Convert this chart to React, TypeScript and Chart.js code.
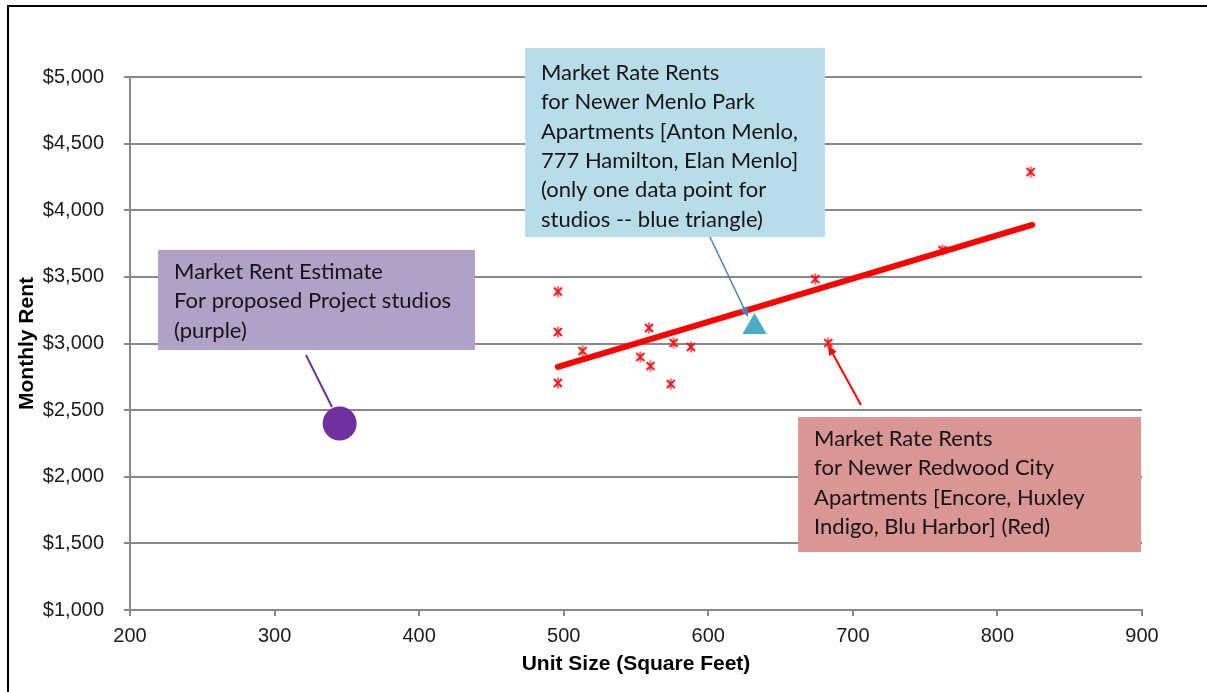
import React, { useEffect, useRef } from "react";
import { Chart, registerables } from "chart.js";

Chart.register(...registerables);

// Red Redwood City units (sq ft, monthly rent)
const redX = [496, 496, 496, 513, 553, 559, 560, 574, 576, 588, 674, 677, 683, 762, 823];
const redY = [3390, 3086, 2704, 2944, 2899, 3116, 2831, 2696, 3004, 2974, 3484, 3900, 3004, 3702, 4287];
// Trend line endpoints
const trendX = [496, 824];
const trendY = [2825, 3890];
// Menlo Park (blue triangle)
const blueX = [632];
const blueY = [3124];
// Project estimate (purple)
const purpleX = [345];
const purpleY = [2400];

const xTicks = [200, 300, 400, 500, 600, 700, 800, 900];
const yTicks = [1000, 1500, 2000, 2500, 3000, 3500, 4000, 4500, 5000];

const blueText = [
  "Market Rate Rents",
  "for Newer Menlo Park",
  "Apartments [Anton Menlo,",
  "777 Hamilton, Elan Menlo]",
  "(only one data point for",
  "studios -- blue triangle)",
];
const purpleText = ["Market Rent Estimate", "For proposed Project studios", "(purple)"];
const redText = [
  "Market Rate Rents",
  "for Newer Redwood City",
  "Apartments [Encore, Huxley",
  "Indigo, Blu Harbor] (Red)",
];

function makeStar(): HTMLCanvasElement {
  const c = document.createElement("canvas");
  c.width = 12;
  c.height = 12;
  const g = c.getContext("2d")!;
  g.strokeStyle = "#f01418";
  g.lineWidth = 2;
  g.lineCap = "butt";
  g.beginPath();
  g.moveTo(2, 2);
  g.lineTo(10, 10);
  g.moveTo(10, 2);
  g.lineTo(2, 10);
  g.stroke();
  g.lineWidth = 1.3;
  g.beginPath();
  g.moveTo(6, 0.5);
  g.lineTo(6, 11.5);
  g.stroke();
  return c;
}

const annotationPlugin = {
  id: "notes",
  afterDatasetsDraw(chart: any) {
    const ctx = chart.ctx as CanvasRenderingContext2D;
    const xs = chart.scales.x;
    const ys = chart.scales.y;
    const X = (v: number) => xs.getPixelForValue(v);
    const Y = (v: number) => ys.getPixelForValue(v);
    const font = "22px Lato";

    const box = (x0: number, y0: number, x1: number, y1: number, fill: string, lines: string[], firstBase: number) => {
      const l = X(x0), t = Y(y0), r = X(x1), b = Y(y1);
      ctx.save();
      ctx.fillStyle = fill;
      ctx.fillRect(l, t, r - l, b - t);
      ctx.fillStyle = "#141414";
      ctx.font = font;
      ctx.textBaseline = "alphabetic";
      ctx.textAlign = "left";
      lines.forEach((s, i) => ctx.fillText(s, l + 16, t + firstBase + i * 29.3));
      ctx.restore();
    };

    const arrow = (ax: number, ay: number, bx: number, by: number, color: string, head: boolean, w: number) => {
      const x0 = X(ax), y0 = Y(ay), x1 = X(bx), y1 = Y(by);
      ctx.save();
      ctx.strokeStyle = color;
      ctx.fillStyle = color;
      ctx.lineWidth = w;
      const ang = Math.atan2(y1 - y0, x1 - x0);
      const hl = head ? 11 : 0;
      ctx.beginPath();
      ctx.moveTo(x0, y0);
      ctx.lineTo(x1 - Math.cos(ang) * hl * 0.8, y1 - Math.sin(ang) * hl * 0.8);
      ctx.stroke();
      if (head) {
        ctx.beginPath();
        ctx.moveTo(x1, y1);
        ctx.lineTo(x1 - Math.cos(ang - 0.4) * hl, y1 - Math.sin(ang - 0.4) * hl);
        ctx.lineTo(x1 - Math.cos(ang + 0.4) * hl, y1 - Math.sin(ang + 0.4) * hl);
        ctx.closePath();
        ctx.fill();
      }
      ctx.restore();
    };

    box(473.2, 5217, 680.7, 3799, "#b7dde8", blueText, 32);
    box(219.4, 3702, 438.6, 2951, "#b2a1c7", purpleText, 29);
    box(662.1, 2448, 899.3, 1435, "#d99694", redText, 29);

    arrow(601.2, 3799, 627.5, 3199, "#4a7ebb", true, 1.5);
    arrow(321.7, 2914, 339.7, 2523, "#7030a0", false, 2);
    arrow(705.6, 2538, 682.8, 2989, "#ff0000", true, 2);

    // outer border
    ctx.save();
    ctx.strokeStyle = "#000";
    ctx.lineWidth = 2;
    ctx.beginPath();
    ctx.moveTo(8, chart.height + 5);
    ctx.lineTo(8, 6);
    ctx.lineTo(chart.width + 5, 6);
    ctx.stroke();
    ctx.restore();
  },
};

export default function App() {
  const ref = useRef<HTMLCanvasElement>(null);
  useEffect(() => {
    const star = makeStar();
    const chart = new Chart(ref.current!, {
      type: "scatter",
      data: {
        datasets: [
          {
            label: "Trend",
            data: trendX.map((x, i) => ({ x, y: trendY[i] })),
            showLine: true,
            borderColor: "#ff0000",
            borderWidth: 6,
            pointRadius: 0,
            borderCapStyle: "round",
          } as any,
          {
            label: "Menlo Park",
            data: blueX.map((x, i) => ({ x, y: blueY[i] })),
            pointStyle: "triangle",
            pointRadius: 14,
            backgroundColor: "#4bacc6",
            borderColor: "#4bacc6",
            borderWidth: 0,
          },
          {
            label: "Project",
            data: purpleX.map((x, i) => ({ x, y: purpleY[i] })),
            pointStyle: "circle",
            pointRadius: 17,
            backgroundColor: "#7030a0",
            borderColor: "#7030a0",
            borderWidth: 0,
          },
          {
            label: "Redwood City",
            data: redX.map((x, i) => ({ x, y: redY[i] })),
            pointStyle: star as any,
            pointRadius: 6,
          },
        ],
      },
      options: {
        animation: false,
        responsive: false,
        devicePixelRatio: 1,
        layout: { padding: { left: 0, top: 77, right: 65, bottom: 0 } },
        plugins: { legend: { display: false }, tooltip: { enabled: false } },
        scales: {
          x: {
            type: "linear",
            min: 200,
            max: 900,
            afterFit: (s: any) => {
              s.height = 82;
            },
            afterBuildTicks: (s: any) => {
              s.ticks = xTicks.map((v) => ({ value: v }));
            },
            ticks: {
              color: "#1a1a1a",
              font: { family: "'Liberation Sans', Arial", size: 20 },
              padding: 8,
              maxRotation: 0,
            },
            grid: { drawOnChartArea: false, color: "#888888", lineWidth: 2, tickLength: 6 },
            border: { color: "#888888", width: 2 },
            title: {
              display: true,
              text: "Unit Size (Square Feet)",
              color: "#000",
              font: { family: "'Liberation Sans', Arial", size: 21, weight: "bold" },
              padding: { top: 0, bottom: 15 },
            },
          },
          y: {
            type: "linear",
            min: 1000,
            max: 5000,
            afterFit: (s: any) => {
              s.width = 130;
            },
            afterBuildTicks: (s: any) => {
              s.ticks = yTicks.map((v) => ({ value: v }));
            },
            ticks: {
              color: "#1a1a1a",
              font: { family: "'Liberation Sans', Arial", size: 20 },
              padding: 20,
              callback: (v: any) => "$" + Number(v).toLocaleString("en-US"),
            },
            grid: { color: "#888888", lineWidth: 2, tickLength: 6 },
            border: { color: "#888888", width: 2 },
            title: {
              display: true,
              text: "Monthly Rent",
              color: "#000",
              font: { family: "'Liberation Sans', Arial", size: 21, weight: "bold" },
              padding: { top: 15, bottom: 0 },
            },
          },
        },
      },
      plugins: [annotationPlugin],
    });
    return () => chart.destroy();
  }, []);
  return (
    <div style={{ position: "fixed", left: 0, top: 0, width: 1207, height: 692, background: "#fff" }}>
      <canvas ref={ref} width={1207} height={692} style={{ width: 1207, height: 692, display: "block" }} />
    </div>
  );
}
